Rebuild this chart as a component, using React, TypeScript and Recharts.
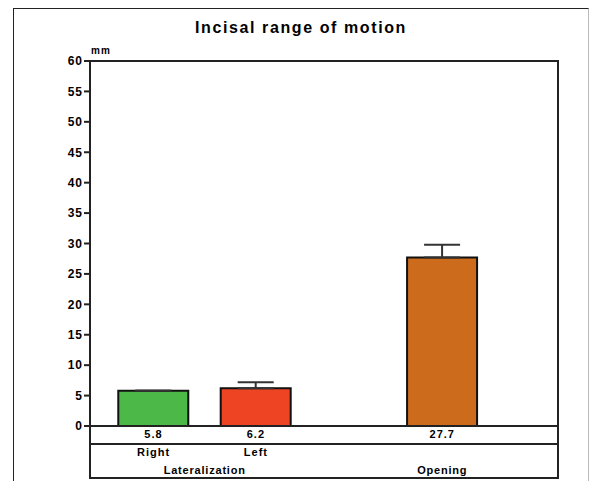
import React from 'react';
import * as R from 'recharts';
import { BarChart, Bar, XAxis, YAxis, ErrorBar, Cell } from 'recharts';

// ---- data ----
const categories = ['Right', 'Left', 'Opening'];
const categoryLabels = ['Right', 'Left', ''];
const groups = ['Lateralization', 'Lateralization', 'Opening'];
const means = [5.8, 6.2, 27.7];
const sdUp = [0, 1.0, 2.1];
const yTicks = [0, 5, 10, 15, 20, 25, 30, 35, 40, 45, 50, 55, 60];
const title = 'Incisal range of motion';
const unit = 'mm';

// ---- layout / style ----
const slots = [1, 2, 3.82];
const xDomain = [0.38, 4.95];
const colors = ['#4cb847', '#ef4423', '#cc6b1c'];
const FONT = '"Liberation Sans", Arial, sans-serif';
const AX1 = 18, AX2 = 17, AX3 = 17;

const data = categories.map((c, i) => ({
  pos: slots[i],
  name: c,
  value: means[i],
  err: [0, sdUp[i]],
}));

const groupNames = Array.from(new Set(groups));
const groupPos = groupNames.map((g) => {
  const idx = groups.map((x, i) => (x === g ? i : -1)).filter((i) => i >= 0);
  return idx.reduce((s, i) => s + slots[i], 0) / idx.length;
});

const usePA: () => any = (R as any).usePlotArea ?? (() => null);

function Frame() {
  const pa = usePA();
  if (!pa) return null;
  return (
    <rect
      x={pa.x}
      y={pa.y}
      width={pa.width}
      height={pa.height + AX1 + AX2 + AX3}
      fill="none"
      stroke="#222"
      strokeWidth={2}
    />
  );
}

const makeTick = (labels: string[], positions: number[], dy: number, size: number, ls: number) => (props: any) => {
  const { x, y, payload } = props;
  const i = positions.findIndex((p) => Math.abs(p - payload.value) < 1e-6);
  const label = i >= 0 ? labels[i] : '';
  return (
    <text
      x={x}
      y={y + dy}
      textAnchor="middle"
      dominantBaseline="central"
      fontFamily={FONT}
      fontWeight="bold"
      fontSize={size}
      letterSpacing={ls}
      fill="#000"
    >
      {label}
    </text>
  );
};

const ValTick = makeTick(means.map((m) => m.toFixed(1)), slots, 8, 11, 1);
const CatTick = makeTick(categoryLabels, slots, 8, 11, 1);
const GrpTick = makeTick(groupNames, groupPos, 9, 11, 0.8);

export default function App() {
  return (
    <div style={{ position: 'absolute', left: 0, top: 0, width: 590, height: 481, background: '#fff', overflow: 'hidden' }}>
      <div
        style={{
          position: 'absolute',
          left: 13,
          top: 8,
          width: 574,
          height: 480,
          borderTop: '1px solid #222',
          borderLeft: '1px solid #222',
          borderRight: '1px solid #bbb',
        }}
      />
      <div
        style={{
          position: 'absolute',
          left: 0,
          width: 602,
          top: 19,
          textAlign: 'center',
          fontFamily: FONT,
          fontWeight: 'bold',
          fontSize: 16,
          letterSpacing: 1.6,
          color: '#000',
          lineHeight: '18px',
        }}
      >
        {title}
      </div>
      <div
        style={{
          position: 'absolute',
          left: 91,
          top: 45,
          fontFamily: FONT,
          fontWeight: 'bold',
          fontSize: 10,
          letterSpacing: 1,
          color: '#000',
          lineHeight: '12px',
        }}
      >
        {unit}
      </div>
      <div style={{ position: 'absolute', left: 0, top: 0 }}>
        <BarChart width={590} height={481} data={data} margin={{ top: 61, right: 32, bottom: 3, left: 0 }}>
          <YAxis
            type="number"
            domain={[0, 60]}
            ticks={yTicks}
            interval={0}
            width={90}
            axisLine={{ stroke: '#222', strokeWidth: 2 }}
            tickLine={{ stroke: '#222', strokeWidth: 2 }}
            tickSize={6}
            tickMargin={1}
            tick={{ fill: '#000', fontFamily: FONT, fontWeight: 'bold', fontSize: 12, letterSpacing: 1 }}
          />
          <XAxis
            xAxisId="a_val"
            dataKey="pos"
            type="number"
            domain={xDomain}
            allowDataOverflow
            ticks={slots}
            interval={0}
            height={AX1}
            tickSize={0}
            tickMargin={0}
            tickLine={false}
            axisLine={{ stroke: '#222', strokeWidth: 2 }}
            tick={ValTick}
          />
          <XAxis
            xAxisId="b_cat"
            dataKey="pos"
            type="number"
            domain={xDomain}
            allowDataOverflow
            ticks={slots}
            interval={0}
            height={AX2}
            tickSize={0}
            tickMargin={0}
            tickLine={false}
            axisLine={{ stroke: '#222', strokeWidth: 2 }}
            tick={CatTick}
          />
          <XAxis
            xAxisId="c_grp"
            dataKey="pos"
            type="number"
            domain={xDomain}
            allowDataOverflow
            ticks={groupPos}
            interval={0}
            height={AX3}
            tickSize={0}
            tickMargin={0}
            tickLine={false}
            axisLine={false}
            tick={GrpTick}
          />
          <Bar xAxisId="a_val" dataKey="value" barSize={70} stroke="#111" strokeWidth={2} isAnimationActive={false}>
            {data.map((d, i) => (
              <Cell key={d.name} fill={colors[i]} />
            ))}
            <ErrorBar dataKey="err" width={18} stroke="#333" strokeWidth={2} direction="y" isAnimationActive={false} />
          </Bar>
          <Frame />
        </BarChart>
      </div>
    </div>
  );
}
